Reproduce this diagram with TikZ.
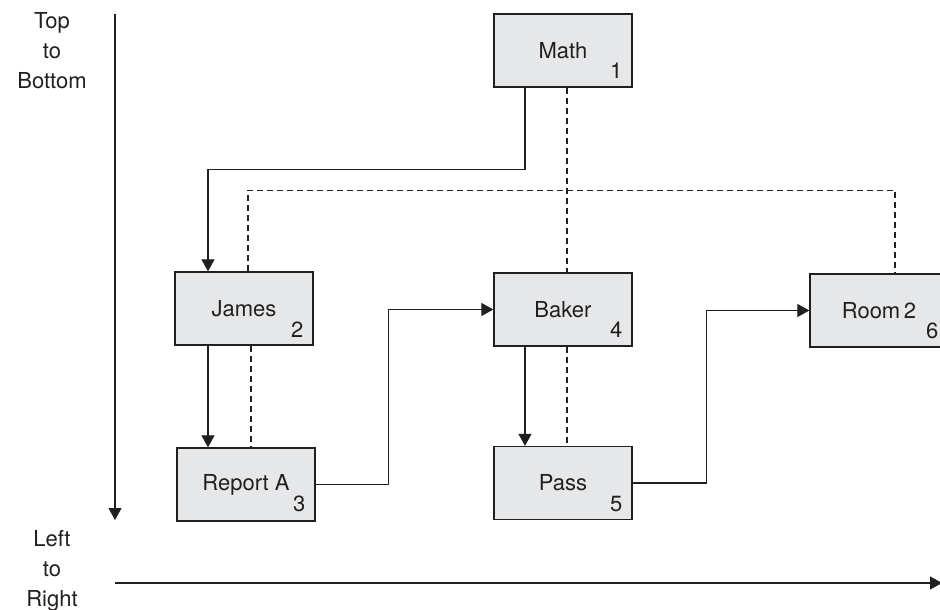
\documentclass[tikz,border=0pt]{standalone}
\usepackage{fontspec}
\setmainfont{TeX Gyre Heros}
\usetikzlibrary{arrows.meta}
\definecolor{ink}{RGB}{35,31,32}
\definecolor{boxgray}{RGB}{230,231,233}
\begin{document}
\begin{tikzpicture}[x=1pt,y=-1pt,
  font=\fontsize{22}{30}\selectfont,text=ink,
  box/.style={draw=ink,fill=boxgray,line width=1.3pt,minimum width=138pt,minimum height=73pt,inner sep=0pt},
  num/.style={anchor=base east,inner sep=0pt},
  flow/.style={draw=ink,line width=1.2pt,-{Triangle[length=12pt,width=13pt]}},
  tie/.style={draw=ink,line width=1.2pt,dash pattern=on 6pt off 4pt},
  side/.style={align=center,anchor=north,inner sep=0pt}]
\useasboundingbox (0,0) rectangle (940,610);
% boxes
\node[box] (math) at (563,50.5) {Math};
\node[box] (james) at (244,308.5) {James};
\node[box] (reporta) at (246,484.5) {Report A};
\node[box] (baker) at (563,309.5) {Baker};
\node[box] (pass) at (563,483) {Pass};
\node[box] (room) at (879,310.5) {Room\,2};
\node[num] (n1) at ([xshift=-10pt,yshift=9pt]math.south east) {1};
\node[num] (n2) at ([xshift=-10pt,yshift=8pt]james.south east) {2};
\node[num] (n3) at ([xshift=-10pt,yshift=10pt]reporta.south east) {3};
\node[num] (n4) at ([xshift=-10pt,yshift=9pt]baker.south east) {4};
\node[num] (n5) at ([xshift=-10pt,yshift=9pt]pass.south east) {5};
\node[num] (n6) at ([xshift=-10pt,yshift=9pt]room.south east) {6};
% solid links
\draw[flow] ([xshift=-38pt]math.south) -- ++(0,82) -| ([xshift=-36pt]james.north);
\draw[flow] ([xshift=-36pt]james.south) -- ([xshift=-36pt]james.south |- reporta.north);
\draw[flow] (reporta.east) -- ++(73,0) |- (baker.west);
\draw[flow] ([xshift=-38pt]baker.south) -- ([xshift=-38pt]baker.south |- pass.north);
\draw[flow] (pass.east) -- ++(74,0) |- (room.west);
% dashed links
\draw[tie] ([xshift=4pt]math.south) -- ([xshift=4pt]baker.north);
\draw[tie] ([xshift=4pt]james.north) -- ++(0,-81) -| ([xshift=16pt]room.north);
\draw[tie] ([xshift=7pt]james.south) -- ([xshift=7pt]james.south |- reporta.north);
\draw[tie] ([xshift=4pt]baker.south) -- ([xshift=4pt]baker.south |- pass.north);
% axes
\coordinate (vtop) at (115,14);
\coordinate (vbot) at (115,520);
\coordinate (hleft) at (115,583);
\coordinate (hright) at (942,583);
\draw[flow] (vtop) -- (vbot);
\draw[flow] (hleft) -- (hright);
\node[side] (tb) at (52,12) {Top\\to\\Bottom};
\node[side] (lr) at (52,530) {Left\\to\\Right};
\end{tikzpicture}
\end{document}
